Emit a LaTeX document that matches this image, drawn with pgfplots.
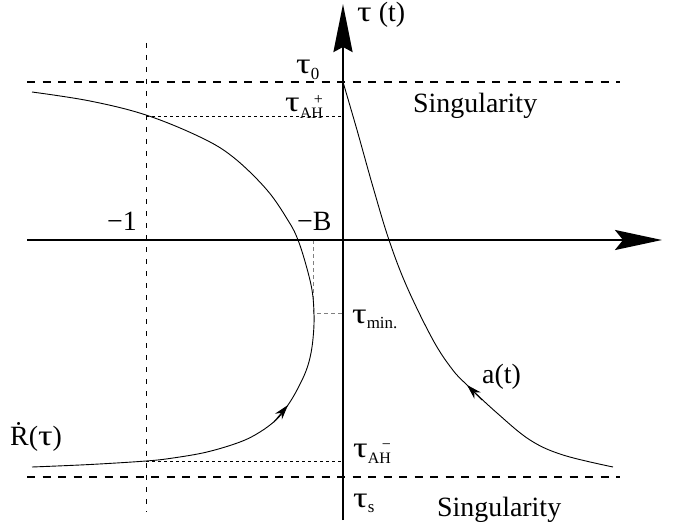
\documentclass[border=0pt]{standalone}
\usepackage{fontspec}
\setmainfont{Liberation Serif}
\usepackage{graphicx}
\usepackage{pgfplots}
\pgfplotsset{compat=1.18}
\usetikzlibrary{arrows.meta}

% wide tau, subscript / superscript helpers in the text font
\newcommand{\ta}{\scalebox{1.3}[1.05]{τ}}
\newcommand{\lo}[1]{\raisebox{-0.45ex}{\fontsize{17}{18}\selectfont #1}}
\newcommand{\lohi}[2]{\raisebox{-0.5ex}{\fontsize{16}{18}\selectfont\begin{tabular}[b]{@{}r@{}}\raisebox{-0.35ex}[1.1ex][0pt]{#1}\\[-0.2ex]#2\end{tabular}}}
\tikzset{lbl/.style={font=\fontsize{28}{32}\selectfont, anchor=base west, inner sep=0pt}}

\begin{document}
\begin{tikzpicture}
\useasboundingbox (0,0) rectangle (688bp,525bp);
\begin{axis}[
  at={(0,0)}, anchor=south west,
  scale only axis, width=688bp, height=525bp,
  xmin=0, xmax=688, ymin=0, ymax=525, y dir=reverse,
  hide axis, clip=false,
  every axis plot/.append style={black, no markers},
]
% singularity levels
\addplot[line width=2.4bp, dash pattern=on 8bp off 7.5bp] coordinates {(27,82) (620,82)};
\addplot[line width=2.4bp, dash pattern=on 8bp off 7.5bp] coordinates {(27,477) (620,477)};
% x = -1
\addplot[line width=0.9bp, dash pattern=on 5bp off 7bp] coordinates {(146,43) (146,512)};
% tau_AH levels
\addplot[line width=0.7bp, dash pattern=on 3bp off 3bp] coordinates {(146,116) (343,116)};
\addplot[line width=0.7bp, dash pattern=on 3bp off 3bp] coordinates {(146,461) (343,461)};
% tau_min
\addplot[gray, line width=0.8bp, dash pattern=on 4bp off 3bp] coordinates {(313,240) (313,313) (343,313)};
% axes
\addplot[line width=2.5bp, -{Stealth[length=47bp, width=20bp, inset=8bp]}] coordinates {(27,240) (662,240)};
\addplot[line width=2.5bp, -{Stealth[length=48bp, width=19bp, inset=5bp]}] coordinates {(343,520) (343,4)};
% R dot (tau)
\addplot[line width=0.9bp, smooth, tension=0.6] coordinates {
  (32,467) (90,464.5) (146,461) (173,458) (207,452) (240,442) (260,432) (277,419)
  (288,405) (297,390) (306,371) (311,353) (313.5,333) (314,313) (312,290) (306,265)
  (298,240) (289,222) (267,190) (233,157) (200,137) (146,115) (90,101) (32,92)};
\addplot[line width=0.9bp, -{Stealth[length=15bp, width=9bp]}] coordinates {(274,422) (288,405)};
% a(t)
\addplot[line width=0.9bp, smooth, tension=0.6] coordinates {
  (613,467) (563,455) (530,440) (497,413) (467,385) (452,369) (433,340) (407,287)
  (389,240) (373,187) (357,130) (343,82)};
\addplot[line width=0.9bp, -{Stealth[length=15bp, width=9bp]}] coordinates {(482,400) (467,385)};
% labels
\node[lbl] at (axis cs:357,22) {\ta{} (t)};
\node[lbl] at (axis cs:296,74) {\ta\lo{0}};
\node[lbl] at (axis cs:285,112) {\ta\lohi{+}{AH}};
\node[lbl] at (axis cs:413,112) {Singularity};
\node[lbl] at (axis cs:107,230) {−1};
\node[lbl] at (axis cs:297,230) {−B};
\node[lbl] at (axis cs:352,323) {\ta\lo{min.}};
\node[lbl] at (axis cs:482,383) {a(t)};
\node[lbl] at (axis cs:10,445) {\.{R}(\ta)};
\node[lbl] at (axis cs:353,457) {\ta\lohi{−}{AH}};
\node[lbl] at (axis cs:353,507) {\ta\lo{s}};
\node[lbl] at (axis cs:437,516) {Singularity};
\end{axis}
\end{tikzpicture}
\end{document}
